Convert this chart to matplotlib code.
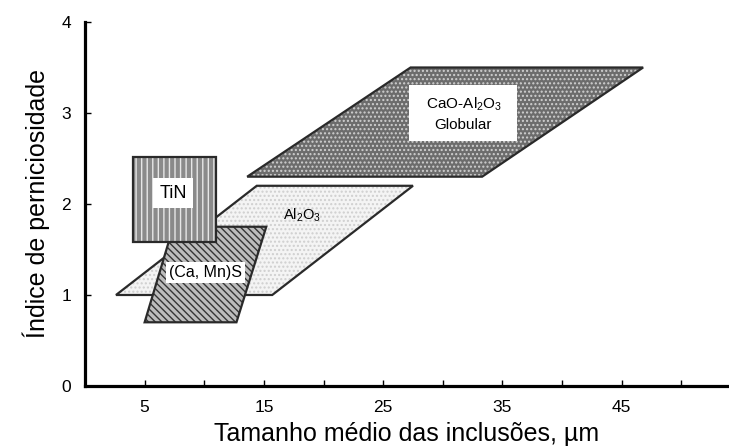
import matplotlib.pyplot as plt
from matplotlib.patches import Polygon

plt.rcParams['font.family'] = ['Liberation Sans', 'DejaVu Sans']
plt.rcParams['hatch.linewidth'] = 1.0

# corners of each inclusion region: (tamanho, indice)
cao_x = [13.6, 33.3, 46.8, 27.3]
cao_y = [2.3, 2.3, 3.5, 3.5]
al2o3_x = [2.6, 15.7, 27.5, 14.4]
al2o3_y = [1.0, 1.0, 2.2, 2.2]
camns_x = [5.0, 12.7, 15.2, 7.4]
camns_y = [0.7, 0.7, 1.75, 1.75]
tin_x = [4.0, 11.0, 11.0, 4.0]
tin_y = [1.58, 1.58, 2.52, 2.52]

xticks = [5, 10, 15, 20, 25, 30, 35, 40, 45, 50]
xticklabels = ['5', '', '15', '', '25', '', '35', '', '45', '']
yticks = [0, 1, 2, 3, 4]

fig = plt.figure(figsize=(7.29, 4.47), dpi=100)
ax = fig.add_axes([0.1166, 0.1365, 0.8834, 0.8143])


def region(xs, ys, face, hatch, hcolor, z):
    pts = list(zip(xs, ys))
    ax.add_patch(Polygon(pts, closed=True, facecolor=face, edgecolor=hcolor,
                         hatch=hatch, linewidth=0, zorder=z))
    ax.add_patch(Polygon(pts, closed=True, fill=False, edgecolor='#2a2a2a',
                         linewidth=1.6, zorder=z + 0.1))


region(cao_x, cao_y, '#6c6c6c', '....', '#d0d0d0', 2)
region(al2o3_x, al2o3_y, '#f4f4f4', '....', '#cfcfcf', 2)
region(camns_x, camns_y, '#bcbcbc', '\\\\\\\\\\', '#353535', 3)
region(tin_x, tin_y, '#8a8a8a', '|||', '#e6e6e6', 4)

box = dict(facecolor='white', edgecolor='none', boxstyle='square,pad=0.35')
ax.text(7.4, 2.12, 'TiN', fontsize=13, ha='center', va='center', bbox=box, zorder=6)
ax.text(10.1, 1.25, '(Ca, Mn)S', fontsize=11.5, ha='center', va='center',
        bbox=dict(facecolor='white', edgecolor='none', boxstyle='square,pad=0.2'), zorder=6)
ax.text(18.2, 1.88, r'$\mathregular{Al_2O_3}$', fontsize=10.5, ha='center', va='center', zorder=6)
ax.text(31.7, 2.99, '  ' + r'$\mathregular{CaO}$-$\mathregular{Al_2O_3}$' + '  \nGlobular',
        fontsize=11, ha='center', va='center', linespacing=1.4,
        bbox=dict(facecolor='white', edgecolor='none', boxstyle='square,pad=0.6'), zorder=6)

ax.set_xlim(0, 54)
ax.set_ylim(0, 4)
ax.spines['top'].set_visible(False)
ax.spines['right'].set_visible(False)
ax.spines['left'].set_linewidth(2.3)
ax.spines['bottom'].set_linewidth(2.3)

ax.set_xticks(xticks)
ax.set_xticklabels(xticklabels)
ax.set_yticks(yticks)
ax.tick_params(direction='in', length=4, width=1, labelsize=12.5, pad=10)

ax.set_xlabel('Tamanho médio das inclusões, µm', fontsize=18, labelpad=5)
ax.set_ylabel('Índice de perniciosidade', fontsize=18, labelpad=8)

fig.savefig('out.png', dpi=100)
